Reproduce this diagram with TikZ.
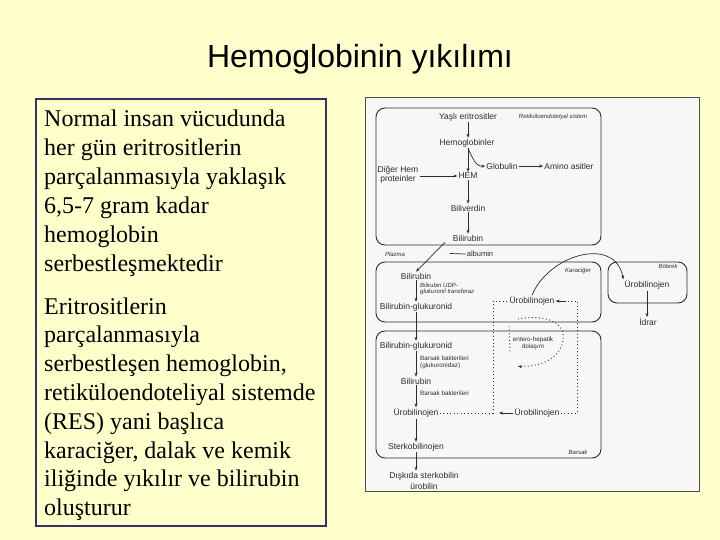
\documentclass[tikz,border=0pt]{standalone}
\usepackage{fontspec}
\setmainfont{Liberation Serif}
\newfontfamily\sansf{Liberation Sans}
\usetikzlibrary{arrows.meta}
\definecolor{bg}{RGB}{255,255,204}
\definecolor{frame}{RGB}{51,51,102}
\definecolor{ink}{RGB}{45,45,45}
\definecolor{scan}{RGB}{247,247,245}
\begin{document}
\begin{tikzpicture}[x=1pt,y=-1pt,
  body/.style={font=\fontsize{24}{28.8}\selectfont, anchor=base west, inner sep=0pt},
  lbl/.style={font=\sansf\fontsize{8.5}{9.5}\selectfont, text=ink, inner sep=1pt, align=center},
  tiny/.style={font=\sansf\itshape\fontsize{6}{6.8}\selectfont, text=ink, inner sep=1pt, align=left},
  tinyup/.style={font=\sansf\fontsize{6.3}{7.2}\selectfont, text=ink, inner sep=1pt, align=left},
  organ/.style={draw=ink, line width=0.9pt, rounded corners=9pt, inner sep=0pt},
  arr/.style={draw=ink, line width=0.7pt, -{Stealth[length=4pt,width=3pt]}},
  plain/.style={draw=ink, line width=0.7pt},
  dots/.style={draw=ink, line width=0.9pt, dash pattern=on 0.9pt off 2.6pt}
]
\fill[bg] (0,0) rectangle (720,540);
\useasboundingbox (0,0) rectangle (720,540);

% title
\node[font=\sansf\fontsize{32}{38}\selectfont, anchor=base, inner sep=0pt] (title) at (360,68) {Hemoglobinin yıkılımı};

% left text box
\node[draw=frame, line width=2.5pt, minimum width=290pt, minimum height=427pt, inner sep=0pt] (textbox) at (181,312.5) {};
\node[body] (a1) at (44,127) {Normal insan vücudunda};
\node[body] (a2) at (44,155.8) {her gün eritrositlerin};
\node[body] (a3) at (44,184.6) {parçalanmasıyla yaklaşık};
\node[body] (a4) at (44,213.4) {6,5-7 gram kadar};
\node[body] (a5) at (44,242.2) {hemoglobin};
\node[body] (a6) at (44,271) {serbestleşmektedir};
\node[body] (b1) at (44,314) {Eritrositlerin};
\node[body] (b2) at (44,342.8) {parçalanmasıyla};
\node[body] (b3) at (44,371.6) {serbestleşen hemoglobin,};
\node[body] (b4) at (44,400.4) {retiküloendoteliyal sistemde};
\node[body] (b5) at (44,429.2) {(RES) yani başlıca};
\node[body] (b6) at (44,458) {karaciğer, dalak ve kemik};
\node[body] (b7) at (44,486.8) {iliğinde yıkılır ve bilirubin};
\node[body] (b8) at (44,515.6) {oluşturur};

% scanned figure frame
\node[draw=gray!60!black, fill=scan, line width=1pt, minimum width=334pt, minimum height=393pt, inner sep=0pt] (scanbox) at (532,294.5) {};

% compartments
\node[organ, minimum width=225pt, minimum height=137pt] (res) at (488.5,176.5) {};
\node[organ, minimum width=225pt, minimum height=60pt] (liver) at (488.5,292) {};
\node[organ, minimum width=79pt, minimum height=41pt] (kidney) at (647.5,282.5) {};
\node[organ, minimum width=225pt, minimum height=127pt] (gut) at (488.5,394.5) {};

% RES
\node[lbl] (yasli) at (468,117) {Yaşlı eritrositler};
\node[tiny] (reslab) at (553,117) {Retiküloendotelyal sistem};
\node[lbl] (hb) at (467,143) {Hemoglobinler};
\node[lbl] (glob) at (502,166) {Globulin};
\node[lbl] (amino) at (569,166) {Amino asitler};
\node[lbl, font=\sansf\fontsize{8.5}{9}\selectfont] (diger) at (398,174.5) {Diğer Hem\\proteinler};
\node[lbl] (hem) at (468,176) {HEM};
\node[lbl] (bv) at (468,208) {Biliverdin};
\node[lbl] (br1) at (468,238) {Bilirubin};

\draw[arr] (yasli) -- (yasli |- hb.north);
\draw[arr] (hb.south -| hem) -- (hem);
\draw[arr] ([xshift=1pt]hb.south) to[out=-65,in=185] (glob.west);
\draw[arr] (glob) -- (amino);
\draw[arr] (diger.east |- hem) -- (hem);
\draw[arr] (hem) -- (bv);
\draw[arr] (bv) -- (br1);

% plasma
\node[tiny] (plazma) at (395,254) {Plazma};
\node[lbl, font=\sansf\fontsize{7.5}{8}\selectfont] (albumin) at (480,254) {albumin};
\coordinate (albend) at (450,253.5);
\draw[plain] (albumin.west) -- (albend);

% liver
\node[tiny] (karlab) at (578,271) {Karaciğer};
\node[lbl] (br2) at (416,276) {Bilirubin};
\node[tiny, anchor=west] (udp) at (419,289) {Bilirubin UDP-\\glukuronil transferaz};
\node[lbl] (brg1) at (416,307) {Bilirubin-glukuronid};
\node[lbl] (uro1) at (532,301) {Ürobilinojen};

\draw[arr] ([xshift=-23pt]br1.south) -- (br2.north);
\draw[arr] (br2) -- (brg1);

% kidney
\node[tiny] (boblab) at (668,266) {Böbrek};
\node[lbl] (uro2) at (647,285) {Ürobilinojen};
\node[lbl] (idrar) at (648,322) {İdrar};
\draw[arr] (uro2) -- (uro2 |- idrar.north);
\draw[arr] (uro1.north) .. controls (548,255) and (615,235) .. (uro2.north west);

% gut
\node[tiny] (barlab) at (578,452) {Barsak};
\node[lbl] (brg2) at (416,346) {Bilirubin-glukuronid};
\node[tinyup, anchor=west] (bakt1) at (419,362) {Barsak bakterileri\\(glukuronidaz)};
\node[lbl] (br3) at (416,381) {Bilirubin};
\node[tinyup, anchor=west] (bakt2) at (419,393) {Barsak bakterileri};
\node[lbl] (uroL) at (416,413) {Ürobilinojen};
\node[lbl] (uroR) at (537,413) {Ürobilinojen};
\node[tinyup, align=center] (entero) at (533,343) {entero-hepatik\\dolaşım};
\node[lbl] (sterk) at (416,447) {Sterkobilinojen};
\node[lbl, font=\sansf\fontsize{8.5}{11}\selectfont] (diski) at (424,480.5) {Dışkıda sterkobilin\\ürobilin};

\draw[arr] (brg1) -- (brg2);
\draw[arr] (brg2) -- (br3);
\draw[arr] (br3) -- (uroL);
\draw[arr] (uroL) -- (sterk);
\draw[arr] (sterk) -- (sterk |- diski.north);

% entero-hepatic circulation (dotted)
\coordinate (j1) at (493,413);
\coordinate (j2) at (493,301);
\draw[dots] (uroL.east) -- (j1) -- (j2) -- (uro1.west);
\coordinate (j3) at (499,413);
\draw[arr] (uroR.west) -- (j3);
\coordinate (j4) at (577,413);
\coordinate (j5) at (577,301);
\coordinate (j6) at (566,301);
\draw[dots] (uroR.east) -- (j4) -- (j5) -- (j6);
\draw[arr] (j6) -- (uro1.east);
\coordinate (c1) at (509,326);
\coordinate (c2) at (510,353);
\draw[dots] (c1) -- (c2);
\coordinate (c3) at (518,319);
\coordinate (c4) at (518,366);
\draw[dots] (c3) .. controls (545,314) and (566,322) .. (563,340) .. controls (561,358) and (540,368) .. (c4);
\draw[arr] ([xshift=4pt,yshift=-1pt]c4) -- (c4);
\end{tikzpicture}
\end{document}
